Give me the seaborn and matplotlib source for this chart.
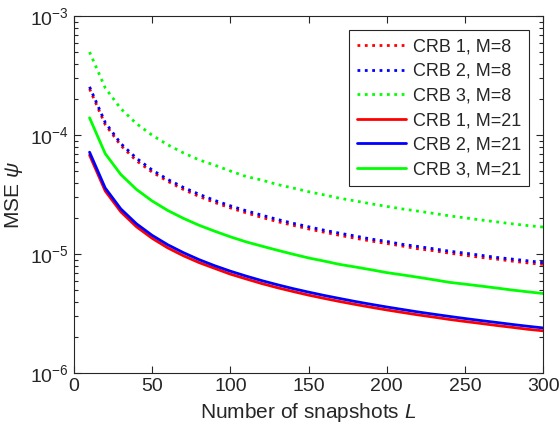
import matplotlib
matplotlib.use("Agg")
import matplotlib.pyplot as plt
import matplotlib.ticker as mticker
import seaborn as sns

# number of snapshots
L = [10, 20, 30, 40, 50, 60, 70, 80, 90, 100, 110, 120, 130, 140, 150,
     160, 170, 180, 190, 200, 210, 220, 230, 240, 250, 260, 270, 280, 290, 300]

# M = 8 (dotted)
crb1_m8 = [2.45e-4, 1.23e-4, 8.2e-5, 6.1e-5, 4.9e-5, 4.1e-5, 3.5e-5, 3.06e-5, 2.72e-5, 2.45e-5,
           2.23e-5, 2.04e-5, 1.88e-5, 1.75e-5, 1.63e-5, 1.53e-5, 1.44e-5, 1.36e-5, 1.29e-5, 1.23e-5,
           1.17e-5, 1.11e-5, 1.07e-5, 1.02e-5, 9.8e-6, 9.4e-6, 9.1e-6, 8.75e-6, 8.45e-6, 8.2e-6]
crb2_m8 = [2.55e-4, 1.28e-4, 8.5e-5, 6.4e-5, 5.1e-5, 4.25e-5, 3.64e-5, 3.19e-5, 2.83e-5, 2.55e-5,
           2.32e-5, 2.13e-5, 1.96e-5, 1.82e-5, 1.70e-5, 1.59e-5, 1.50e-5, 1.42e-5, 1.34e-5, 1.28e-5,
           1.21e-5, 1.16e-5, 1.11e-5, 1.06e-5, 1.02e-5, 9.8e-6, 9.4e-6, 9.1e-6, 8.8e-6, 8.5e-6]
crb3_m8 = [5.0e-4, 2.5e-4, 1.67e-4, 1.25e-4, 1.0e-4, 8.3e-5, 7.1e-5, 6.2e-5, 5.6e-5, 5.0e-5,
           4.5e-5, 4.2e-5, 3.85e-5, 3.6e-5, 3.35e-5, 3.15e-5, 2.95e-5, 2.8e-5, 2.65e-5, 2.52e-5,
           2.4e-5, 2.3e-5, 2.2e-5, 2.1e-5, 2.02e-5, 1.94e-5, 1.87e-5, 1.8e-5, 1.74e-5, 1.69e-5]

# M = 21 (solid)
crb1_m21 = [6.8e-5, 3.4e-5, 2.27e-5, 1.7e-5, 1.36e-5, 1.13e-5, 9.7e-6, 8.5e-6, 7.6e-6, 6.8e-6,
            6.2e-6, 5.67e-6, 5.23e-6, 4.86e-6, 4.53e-6, 4.25e-6, 4.0e-6, 3.78e-6, 3.58e-6, 3.4e-6,
            3.24e-6, 3.09e-6, 2.96e-6, 2.83e-6, 2.72e-6, 2.62e-6, 2.52e-6, 2.43e-6, 2.34e-6, 2.27e-6]
crb2_m21 = [7.2e-5, 3.6e-5, 2.4e-5, 1.8e-5, 1.44e-5, 1.2e-5, 1.03e-5, 9.0e-6, 8.0e-6, 7.2e-6,
            6.55e-6, 6.0e-6, 5.54e-6, 5.14e-6, 4.8e-6, 4.5e-6, 4.24e-6, 4.0e-6, 3.79e-6, 3.6e-6,
            3.43e-6, 3.27e-6, 3.13e-6, 3.0e-6, 2.88e-6, 2.77e-6, 2.67e-6, 2.57e-6, 2.48e-6, 2.4e-6]
crb3_m21 = [1.4e-4, 7.0e-5, 4.67e-5, 3.5e-5, 2.8e-5, 2.33e-5, 2.0e-5, 1.75e-5, 1.56e-5, 1.4e-5,
            1.27e-5, 1.17e-5, 1.08e-5, 1.0e-5, 9.3e-6, 8.75e-6, 8.2e-6, 7.8e-6, 7.4e-6, 7.0e-6,
            6.7e-6, 6.4e-6, 6.1e-6, 5.8e-6, 5.6e-6, 5.4e-6, 5.2e-6, 5.0e-6, 4.83e-6, 4.67e-6]

labels = ["CRB 1, M=8", "CRB 2, M=8", "CRB 3, M=8",
          "CRB 1, M=21", "CRB 2, M=21", "CRB 3, M=21"]
series = [crb1_m8, crb2_m8, crb3_m8, crb1_m21, crb2_m21, crb3_m21]
colors = ["#ff0000", "#0000ff", "#00ff00", "#ff0000", "#0000ff", "#00ff00"]
styles = [":", ":", ":", "-", "-", "-"]

sns.set_style("white")
plt.rcParams.update({
    "font.family": ["Liberation Sans", "DejaVu Sans"],
    "mathtext.fontset": "custom",
    "mathtext.it": "Liberation Sans:italic",
    "mathtext.rm": "Liberation Sans",
    "axes.edgecolor": "#262626",
    "axes.linewidth": 0.8,
    "xtick.direction": "in", "ytick.direction": "in",
    "xtick.bottom": True, "xtick.top": True,
    "ytick.left": True, "ytick.right": True,
    "xtick.major.size": 5, "ytick.major.size": 5,
    "xtick.minor.size": 3, "ytick.minor.size": 3,
    "xtick.major.width": 0.8, "ytick.major.width": 0.8,
    "ytick.minor.width": 0.8,
    "xtick.color": "#262626", "ytick.color": "#262626",
    "xtick.labelsize": 14, "ytick.labelsize": 14,
})

fig, ax = plt.subplots(figsize=(5.6, 4.38), dpi=100)

for vals, c in zip(series, colors):
    sns.lineplot(x=L, y=vals, color=c, linewidth=2.0, ax=ax)
for line, ls, lab in zip(ax.get_lines(), styles, labels):
    line.set_linestyle(ls)
    line.set_label(lab)

ax.set_yscale("log")
ax.set_xlim(0, 300)
ax.set_ylim(1e-6, 1e-3)
ax.set_xticks([0, 50, 100, 150, 200, 250, 300])

ax.set_xlabel("Number of snapshots $L$", fontsize=15, color="#262626", labelpad=4)
ax.set_ylabel("MSE $\\psi$", fontsize=15, color="#262626", labelpad=4)

leg = ax.legend(loc="upper right", fontsize=13, frameon=True, fancybox=False,
                edgecolor="#262626", framealpha=1, handlelength=2.7,
                borderpad=0.45, labelspacing=0.42, handletextpad=0.4,
                borderaxespad=0, bbox_to_anchor=(0.970, 0.961))
leg.get_frame().set_linewidth(0.8)

plt.subplots_adjust(left=0.132, right=0.970, top=0.963, bottom=0.148)

# inward ticks on all four sides
ax.tick_params(which="both", direction="in", bottom=True, left=True, top=True, right=True)

plt.savefig("out.png", dpi=100)
